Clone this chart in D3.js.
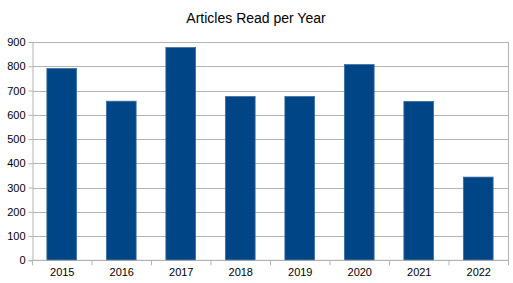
<!DOCTYPE html>
<html>
<head>
<meta charset="utf-8">
<script src="https://cdn.jsdelivr.net/npm/d3@7"></script>
<style>
  html, body { margin: 0; padding: 0; background: #fff; }
  svg { display: block; font-family: "Liberation Sans", Arial, sans-serif; }
</style>
</head>
<body>
<svg id="chart" width="513" height="283"></svg>
<script>
const categories = ["2015", "2016", "2017", "2018", "2019", "2020", "2021", "2022"];
const values = [791, 656, 877, 675, 675, 807, 655, 343];
const yTicks = [0, 100, 200, 300, 400, 500, 600, 700, 800, 900];
const title = "Articles Read per Year";

const W = 513, H = 283;
const m = { left: 32.5, right: 4.5, top: 42, bottom: 22.7 };
const svg = d3.select("#chart");

const x = d3.scaleBand().domain(categories)
  .range([m.left, W - m.right]).paddingInner(0.5).paddingOuter(0.25);
const y = d3.scaleLinear().domain([0, 900]).range([H - m.bottom, m.top]);

const gridColor = "#b3b3b3";

// gridlines
svg.append("g").selectAll("line").data(yTicks).join("line")
  .attr("x1", m.left).attr("x2", W - m.right)
  .attr("y1", d => Math.round(y(d)) + 0.5).attr("y2", d => Math.round(y(d)) + 0.5)
  .attr("stroke", gridColor).attr("stroke-width", 1);

// right border
svg.append("line")
  .attr("x1", W - m.right).attr("x2", W - m.right)
  .attr("y1", y(900)).attr("y2", y(0))
  .attr("stroke", gridColor);

// bars
svg.append("g").selectAll("rect").data(values).join("rect")
  .attr("x", (d, i) => x(categories[i]) - 0.5)
  .attr("width", x.bandwidth())
  .attr("y", d => y(d))
  .attr("height", d => y(0) - y(d))
  .attr("fill", "#004586")
  .attr("stroke", "#3b6ea5")
  .attr("stroke-width", 0.8);

// y axis
const yAxis = d3.axisLeft(y).tickValues(yTicks).tickSize(4).tickPadding(3);
const gy = svg.append("g").attr("transform", `translate(${m.left},0)`).call(yAxis);
gy.select(".domain").attr("stroke", gridColor);
gy.selectAll(".tick line").attr("stroke", gridColor);
gy.selectAll(".tick text").attr("font-size", 11).attr("fill", "#000")
  .attr("font-family", "Liberation Sans, Arial, sans-serif");

// x axis
const xAxis = d3.axisBottom(x).tickSize(0).tickPadding(8);
const gx = svg.append("g").attr("transform", `translate(0,${y(0)})`).call(xAxis);
gx.select(".domain").remove();
gx.selectAll(".tick text").attr("font-size", 11).attr("fill", "#000")
  .attr("font-family", "Liberation Sans, Arial, sans-serif");
svg.append("line").attr("x1", m.left).attr("x2", W - m.right)
  .attr("y1", y(0)).attr("y2", y(0)).attr("stroke", gridColor);
// boundary ticks
const step = x.step();
const bounds = d3.range(categories.length + 1).map(i => m.left + i * step);
svg.append("g").selectAll("line").data(bounds).join("line")
  .attr("x1", d => d).attr("x2", d => d)
  .attr("y1", y(0)).attr("y2", y(0) + 5)
  .attr("stroke", gridColor);

// title
svg.append("text").attr("x", 256).attr("y", 22.5)
  .attr("text-anchor", "middle").attr("font-size", 14).attr("fill", "#000")
  .text(title);
</script>
</body>
</html>
